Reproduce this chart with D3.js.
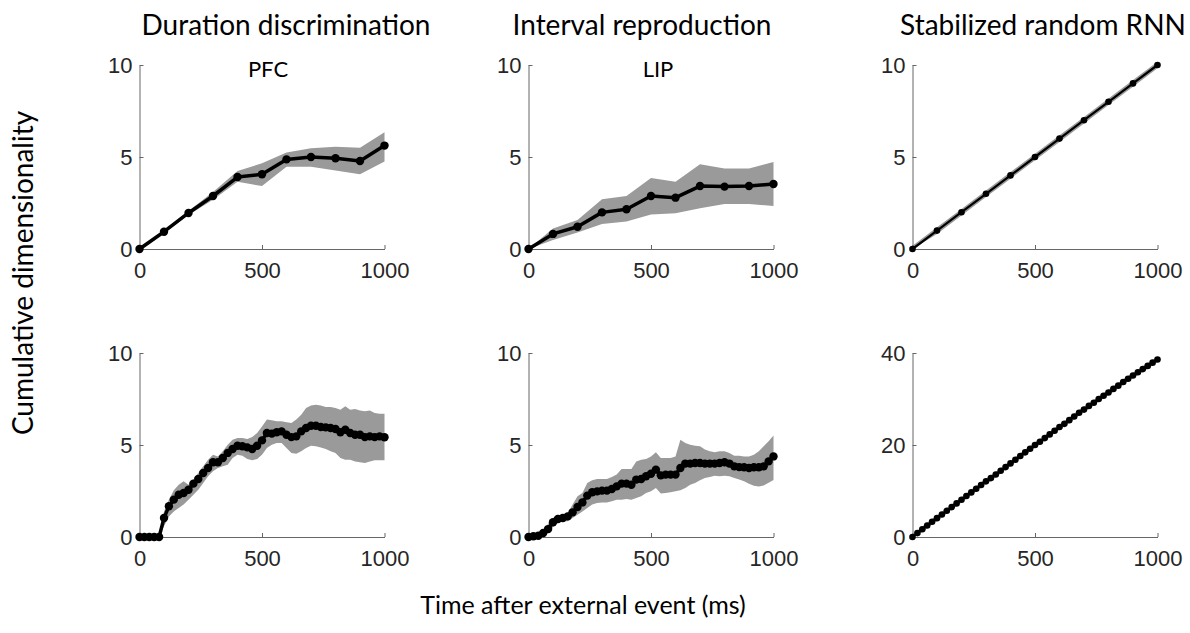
<!DOCTYPE html>
<html>
<head>
<meta charset="utf-8">
<script src="https://cdn.jsdelivr.net/npm/d3@7"></script>
<style>
  body { margin: 0; background: #fff; }
  .lbl { font-family: Lato, "Open Sans", sans-serif; fill: #000; }
</style>
</head>
<body>
<div id="chart"></div>
<script>
// time points (ms)
const timeCoarse = [0, 100, 200, 300, 400, 500, 600, 700, 800, 900, 1000];
const timeFine = [0, 20, 40, 60, 80, 100, 120, 140, 160, 180, 200, 220, 240, 260, 280, 300, 320, 340, 360, 380,
  400, 420, 440, 460, 480, 500, 520, 540, 560, 580, 600, 620, 640, 660, 680, 700, 720, 740, 760, 780,
  800, 820, 840, 860, 880, 900, 920, 940, 960, 980, 1000];

// top row, 100 ms bins
const pfcMean  = [0, 0.94, 1.96, 2.88, 3.91, 4.06, 4.87, 5.0, 4.93, 4.78, 5.62];
const pfcUpper = [0, 1.02, 2.06, 3.1, 4.24, 4.66, 5.24, 5.47, 5.56, 5.5, 6.34];
const pfcLower = [0, 0.85, 1.85, 2.68, 3.66, 3.42, 4.47, 4.47, 4.26, 4.06, 4.75];

const lipMean  = [0, 0.82, 1.21, 1.99, 2.16, 2.88, 2.79, 3.42, 3.39, 3.42, 3.53];
const lipUpper = [0, 1.12, 1.58, 2.7, 2.88, 3.86, 3.66, 4.6, 4.38, 4.38, 4.73];
const lipLower = [0, 0.49, 0.89, 1.36, 1.5, 1.88, 1.94, 2.21, 2.45, 2.45, 2.34];

const rnnMean  = [0, 1, 2, 3, 4, 5, 6, 7, 8, 9, 10];
const rnnUpper = [0.18, 1.18, 2.18, 3.18, 4.18, 5.18, 6.18, 7.18, 8.18, 9.18, 10.18];
const rnnLower = [0, 0.82, 1.82, 2.82, 3.82, 4.82, 5.82, 6.82, 7.82, 8.82, 9.82];

// bottom row, 20 ms bins
const pfcFineMean = [0, 0, 0, 0, 0, 1.03, 1.67, 2.03, 2.3, 2.39, 2.57, 2.9, 3.15, 3.48, 3.75, 4.06, 4.06, 4.29, 4.57, 4.78,
  4.96, 4.93, 4.87, 4.78, 4.96, 5.25, 5.65, 5.62, 5.69, 5.74, 5.56, 5.43, 5.47, 5.74, 5.92, 6.05, 6.05, 5.98, 5.96, 5.92,
  5.87, 5.69, 5.83, 5.65, 5.56, 5.56, 5.43, 5.47, 5.43, 5.47, 5.42];
const pfcFineUpper = [0, 0, 0, 0, 0.1, 1.39, 2.03, 2.54, 2.84, 3.03, 2.84, 3.12, 3.48, 3.84, 4.2, 4.47, 4.38, 4.66, 5.02, 5.29,
  5.38, 5.38, 5.33, 5.43, 5.65, 6.01, 6.38, 6.34, 6.29, 6.29, 6.23, 6.2, 6.38, 6.65, 7.01, 7.14, 7.19, 7.14, 7.07, 7.07,
  7.01, 6.92, 7.1, 6.92, 6.96, 6.88, 6.83, 6.88, 6.74, 6.7, 6.7];
const pfcFineLower = [0, 0, 0, 0, 0, 0.58, 1.12, 1.39, 1.58, 1.76, 2.03, 2.3, 2.57, 2.93, 3.3, 3.57, 3.75, 3.84, 3.93, 4.29,
  4.47, 4.42, 4.24, 4.17, 4.24, 4.47, 4.84, 5.02, 5.11, 5.11, 4.84, 4.57, 4.53, 4.66, 4.84, 4.96, 4.93, 4.87, 4.78, 4.66,
  4.57, 4.29, 4.2, 4.2, 4.11, 4.06, 4.02, 4.11, 4.17, 4.17, 4.17];

const lipFineMean = [0, 0.04, 0.07, 0.22, 0.43, 0.8, 0.98, 1.03, 1.12, 1.34, 1.63, 1.88, 2.25, 2.43, 2.48, 2.52, 2.52, 2.61, 2.75, 2.9,
  2.9, 2.84, 3.12, 3.15, 3.3, 3.44, 3.66, 3.35, 3.39, 3.39, 3.39, 3.75, 3.99, 3.99, 4.02, 4.02, 3.99, 3.99, 3.99, 4.02,
  4.06, 3.99, 3.84, 3.8, 3.79, 3.75, 3.79, 3.79, 3.84, 4.11, 4.38];
const lipFineUpper = [0, 0.05, 0.1, 0.31, 0.72, 1.03, 1.21, 1.16, 1.3, 1.76, 2.21, 2.39, 2.93, 3.08, 3.15, 3.15, 3.15, 3.26, 3.39, 3.7,
  3.7, 3.7, 4.11, 4.2, 4.24, 4.38, 4.6, 4.29, 4.29, 4.29, 4.38, 5.29, 5.11, 5.02, 4.96, 4.93, 4.75, 4.66, 4.6, 4.66,
  4.66, 4.57, 4.42, 4.42, 4.38, 4.38, 4.47, 4.66, 4.93, 5.2, 5.51];
const lipFineLower = [0, 0, 0, 0, 0.22, 0.54, 0.76, 0.85, 0.85, 1.03, 1.21, 1.39, 1.58, 1.76, 1.85, 1.88, 1.88, 1.94, 2.03, 2.03,
  2.07, 2.03, 2.12, 2.21, 2.39, 2.48, 2.66, 2.36, 2.39, 2.43, 2.48, 2.54, 2.66, 2.84, 2.93, 3.08, 3.21, 3.26, 3.33, 3.3,
  3.33, 3.3, 3.21, 3.12, 3.03, 2.9, 2.79, 2.75, 2.8, 2.95, 3.1];

const rnnFineMean = [0, 0.85, 1.7, 2.5, 3.3, 4.1, 4.9, 5.7, 6.5, 7.3, 8.1, 8.9, 9.7, 10.5, 11.3, 12.1, 12.8, 13.6, 14.4, 15.2,
  16.0, 16.8, 17.6, 18.4, 19.2, 20.0, 20.7, 21.5, 22.3, 23.1, 23.9, 24.6, 25.4, 26.2, 27.0, 27.7, 28.5, 29.2, 30.0, 30.7,
  31.4, 32.2, 32.9, 33.7, 34.4, 35.1, 35.8, 36.5, 37.2, 37.9, 38.6];
const rnnFineUpper = [0.5, 1.4, 2.3, 3.1, 3.9, 4.7, 5.5, 6.3, 7.1, 7.9, 8.7, 9.5, 10.3, 11.1, 11.9, 12.7, 13.4, 14.2, 15.0, 15.8,
  16.6, 17.4, 18.2, 19.0, 19.8, 20.6, 21.3, 22.1, 22.9, 23.7, 24.5, 25.2, 26.0, 26.8, 27.6, 28.3, 29.1, 29.8, 30.6, 31.3,
  32.0, 32.8, 33.5, 34.3, 35.0, 35.7, 36.4, 37.1, 37.8, 38.5, 39.2];
const rnnFineLower = [0, 0.3, 1.1, 1.9, 2.7, 3.5, 4.3, 5.1, 5.9, 6.7, 7.5, 8.3, 9.1, 9.9, 10.7, 11.5, 12.2, 13.0, 13.8, 14.6,
  15.4, 16.2, 17.0, 17.8, 18.6, 19.4, 20.1, 20.9, 21.7, 22.5, 23.3, 24.0, 24.8, 25.6, 26.4, 27.1, 27.9, 28.6, 29.4, 30.1,
  30.8, 31.6, 32.3, 33.1, 33.8, 34.5, 35.2, 35.9, 36.6, 37.3, 38.0];

const xTicks = [0, 500, 1000];
const yTicksSmall = [0, 5, 10];
const yTicksLarge = [0, 20, 40];

const columnTitles = ["Duration discrimination", "Interval reproduction", "Stabilized random RNN"];
const areaLabels = ["PFC", "LIP", ""];
const yLabel = "Cumulative dimensionality";
const xLabel = "Time after external event (ms)";

// panel list (row, col)
const panels = [
  { row: 0, col: 0, t: timeCoarse, m: pfcMean, hi: pfcUpper, lo: pfcLower, yMax: 10, yTicks: yTicksSmall },
  { row: 0, col: 1, t: timeCoarse, m: lipMean, hi: lipUpper, lo: lipLower, yMax: 10, yTicks: yTicksSmall },
  { row: 0, col: 2, t: timeCoarse, m: rnnMean, hi: rnnUpper, lo: rnnLower, yMax: 10, yTicks: yTicksSmall, thin: true },
  { row: 1, col: 0, t: timeFine, m: pfcFineMean, hi: pfcFineUpper, lo: pfcFineLower, yMax: 10, yTicks: yTicksSmall },
  { row: 1, col: 1, t: timeFine, m: lipFineMean, hi: lipFineUpper, lo: lipFineLower, yMax: 10, yTicks: yTicksSmall },
  { row: 1, col: 2, t: timeFine, m: rnnFineMean, hi: rnnFineUpper, lo: rnnFineLower, yMax: 40, yTicks: yTicksLarge, thin: true }
];

const W = 1190, H = 633;
const colLeft = [139.5, 528.5, 912.5];
const rowTop = [65, 353];
const pw = 245, ph = 184;

const svg = d3.select("#chart").append("svg")
  .attr("width", W)
  .attr("height", H);

panels.forEach(function (p) {
  const g = svg.append("g")
    .attr("transform", "translate(" + colLeft[p.col] + "," + rowTop[p.row] + ")");

  const x = d3.scaleLinear().domain([0, 1000]).range([0, pw]);
  const y = d3.scaleLinear().domain([0, p.yMax]).range([ph, 0]);

  // shaded band
  const band = d3.area()
    .x(function (d, i) { return x(p.t[i]); })
    .y0(function (d, i) { return y(p.lo[i]); })
    .y1(function (d, i) { return y(p.hi[i]); });
  g.append("path")
    .datum(p.m)
    .attr("d", band)
    .attr("fill", "#9a9a9a");

  // axes, ticks pointing inward
  const xa = g.append("g")
    .attr("transform", "translate(0," + ph + ")")
    .call(d3.axisBottom(x).tickValues(xTicks).tickFormat(d3.format("d"))
      .tickSizeInner(-4).tickSizeOuter(0).tickPadding(13));
  const ya = g.append("g")
    .call(d3.axisLeft(y).tickValues(p.yTicks).tickFormat(d3.format("d"))
      .tickSizeInner(-4).tickSizeOuter(0).tickPadding(7));

  [xa, ya].forEach(function (a) {
    a.selectAll("path, line").attr("stroke", "#666").attr("stroke-width", 1);
    a.selectAll("text")
      .attr("fill", "#262626")
      .style("font-family", "'Liberation Sans', Arial, sans-serif")
      .style("font-size", "22px");
  });

  // mean line
  const line = d3.line()
    .x(function (d, i) { return x(p.t[i]); })
    .y(function (d) { return y(d); });
  g.append("path")
    .datum(p.m)
    .attr("d", line)
    .attr("fill", "none")
    .attr("stroke", "#000")
    .attr("stroke-width", p.thin ? 2.2 : 3.5)
    .attr("stroke-linejoin", "round");

  g.selectAll("circle.pt")
    .data(p.m)
    .enter().append("circle")
    .attr("class", "pt")
    .attr("cx", function (d, i) { return x(p.t[i]); })
    .attr("cy", function (d) { return y(d); })
    .attr("r", p.thin ? 3.3 : 4.2)
    .attr("fill", "#000");
});

// column titles
const titleX = [286, 642, 1043];
columnTitles.forEach(function (t, i) {
  svg.append("text")
    .attr("class", "lbl")
    .attr("x", titleX[i])
    .attr("y", 35)
    .attr("text-anchor", "middle")
    .style("font-size", "28px")
    .text(t);
});

// area labels inside the top panels
const areaX = [268, 658];
areaLabels.forEach(function (t, i) {
  if (!t) return;
  svg.append("text")
    .attr("class", "lbl")
    .attr("x", areaX[i])
    .attr("y", 77)
    .attr("text-anchor", "middle")
    .style("font-size", "22px")
    .text(t);
});

svg.append("text")
  .attr("class", "lbl")
  .attr("transform", "translate(33,273) rotate(-90)")
  .attr("text-anchor", "middle")
  .style("font-size", "28px")
  .text(yLabel);

svg.append("text")
  .attr("class", "lbl")
  .attr("x", 583)
  .attr("y", 614)
  .attr("text-anchor", "middle")
  .style("font-size", "25px")
  .text(xLabel);
</script>
</body>
</html>
